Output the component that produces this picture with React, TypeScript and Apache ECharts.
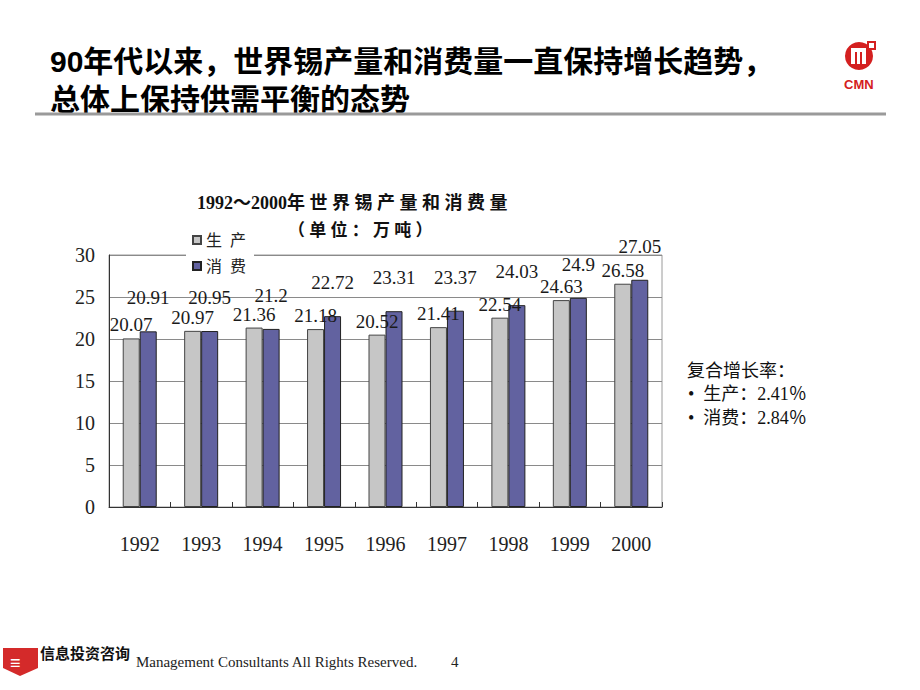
import React, { useEffect, useRef } from "react";
import * as echarts from "echarts";

const years = ["1992", "1993", "1994", "1995", "1996", "1997", "1998", "1999", "2000"];
const production = [20.07, 20.97, 21.36, 21.18, 20.52, 21.41, 22.54, 24.63, 26.58];
const consumption = [20.91, 20.95, 21.2, 22.72, 23.31, 23.37, 24.03, 24.9, 27.05];
const seriesNames = ["生产", "消费"];
const titleLines = ["90年代以来，世界锡产量和消费量一直保持增长趋势，", "总体上保持供需平衡的态势"];
const chartTitle = "1992～2000年 世 界 锡 产 量 和 消 费 量";
const unitText = "（ 单 位 ： 万 吨 ）";
const growthLines = ["复合增长率：", "•  生产：2.41％", "•  消费：2.84％"];

const SERIF = "Liberation Serif, Noto Sans CJK SC, serif";
const SANS = "Liberation Sans, Noto Sans CJK SC, sans-serif";

export default function App() {
  const ref = useRef<HTMLDivElement>(null);
  useEffect(() => {
    if (!ref.current) return;
    const chart = echarts.init(ref.current, null, { renderer: "svg" });
    const labelStyle = {
      show: true,
      position: "top",
      fontFamily: SERIF,
      fontSize: 19,
      color: "#1a1a1a",
    };
    const txt = (
      left: number,
      top: number,
      text: string,
      size: number,
      family: string,
      weight: string = "normal",
      fill: string = "#111"
    ) => ({
      type: "text",
      left,
      top,
      style: { text, fontSize: size, fontFamily: family, fontWeight: weight, fill },
    });
    chart.setOption({
      animation: false,
      backgroundColor: "#ffffff",
      grid: {
        left: 109,
        right: 258,
        top: 255,
        bottom: 183,
        show: true,
        borderColor: "#9a9a9a",
        borderWidth: 1,
        backgroundColor: "transparent",
      },
      legend: {
        orient: "vertical",
        left: 186,
        top: 228,
        itemWidth: 8,
        itemHeight: 8,
        itemGap: 10,
        padding: [4, 8, 4, 6],
        backgroundColor: "#ffffff",
        icon: "rect",
        data: seriesNames,
        formatter: (n: string) => n.split("").join("  "),
        textStyle: { fontFamily: SERIF, fontSize: 16, color: "#222" },
      },
      xAxis: {
        type: "category",
        data: years,
        axisLine: { show: true, lineStyle: { color: "#333", width: 1 } },
        axisTick: { show: true, inside: true, length: 5, lineStyle: { color: "#333" } },
        axisLabel: { margin: 27, fontFamily: SERIF, fontSize: 20, color: "#222" },
      },
      yAxis: {
        type: "value",
        min: 0,
        max: 30,
        interval: 5,
        axisLine: { show: true, lineStyle: { color: "#333", width: 1 } },
        axisTick: { show: false },
        splitLine: { show: true, lineStyle: { color: "#8a8a8a", width: 1 } },
        axisLabel: { margin: 14, fontFamily: SERIF, fontSize: 20, color: "#222" },
      },
      series: [
        {
          name: seriesNames[0],
          type: "bar",
          data: production,
          barWidth: 17,
          barGap: "0%",
          itemStyle: { color: "#c6c6c6", borderColor: "#444", borderWidth: 1 },
          label: { ...labelStyle, distance: 4 },
        },
        {
          name: seriesNames[1],
          type: "bar",
          data: consumption,
          barWidth: 17,
          barGap: "0%",
          itemStyle: { color: "#6262a0", borderColor: "#222", borderWidth: 1 },
          label: { ...labelStyle, distance: 24 },
        },
      ],
      graphic: [
        txt(50, 46, titleLines[0], 30, SANS, "bold", "#000"),
        txt(50, 84, titleLines[1], 30, SANS, "bold", "#000"),
        {
          type: "line",
          shape: { x1: 35, y1: 114, x2: 886, y2: 114 },
          style: { stroke: "#9a9a9a", lineWidth: 3 },
        },
        txt(197, 194, chartTitle, 18, SERIF, "bold"),
        txt(288, 222, unitText, 17, SERIF, "bold"),
        txt(687, 362, growthLines[0], 18, SERIF),
        txt(688, 385, growthLines[1], 18, SERIF),
        txt(688, 409, growthLines[2], 18, SERIF),
        // CMN logo
        {
          type: "circle",
          shape: { cx: 859, cy: 56, r: 14 },
          style: { fill: "#d42020" },
        },
        {
          type: "rect",
          shape: { x: 851, y: 48, width: 15, height: 16 },
          style: { fill: "#ffffff" },
        },
        {
          type: "rect",
          shape: { x: 855, y: 52, width: 2, height: 12 },
          style: { fill: "#d42020" },
        },
        {
          type: "rect",
          shape: { x: 860, y: 52, width: 2, height: 12 },
          style: { fill: "#d42020" },
        },
        {
          type: "rect",
          shape: { x: 868, y: 42, width: 7, height: 7 },
          style: { fill: "#ffffff", stroke: "#d42020", lineWidth: 2 },
        },
        txt(844, 78, "CMN", 13, SANS, "bold", "#d42020"),
        // footer
        {
          type: "polygon",
          shape: { points: [[3, 648], [38, 648], [38, 668], [20, 676], [3, 668]] },
          style: { fill: "#d42a2a" },
        },
        txt(10, 654, "≡", 18, SANS, "bold", "#ffffff"),
        {
          type: "text",
          right: 920 - 418,
          top: 654,
          style: {
            text: "Management Consultants All Rights Reserved.",
            fontSize: 15,
            fontFamily: SERIF,
            fill: "#222",
          },
        },
        txt(40, 646, "信息投资咨询", 15, SERIF, "bold"),
        txt(451, 654, "4", 15, SERIF, "normal", "#222"),
      ],
    });
    return () => chart.dispose();
  }, []);
  return (
    <div
      ref={ref}
      style={{ position: "fixed", left: 0, top: 0, width: 920, height: 690, background: "#fff" }}
    />
  );
}
